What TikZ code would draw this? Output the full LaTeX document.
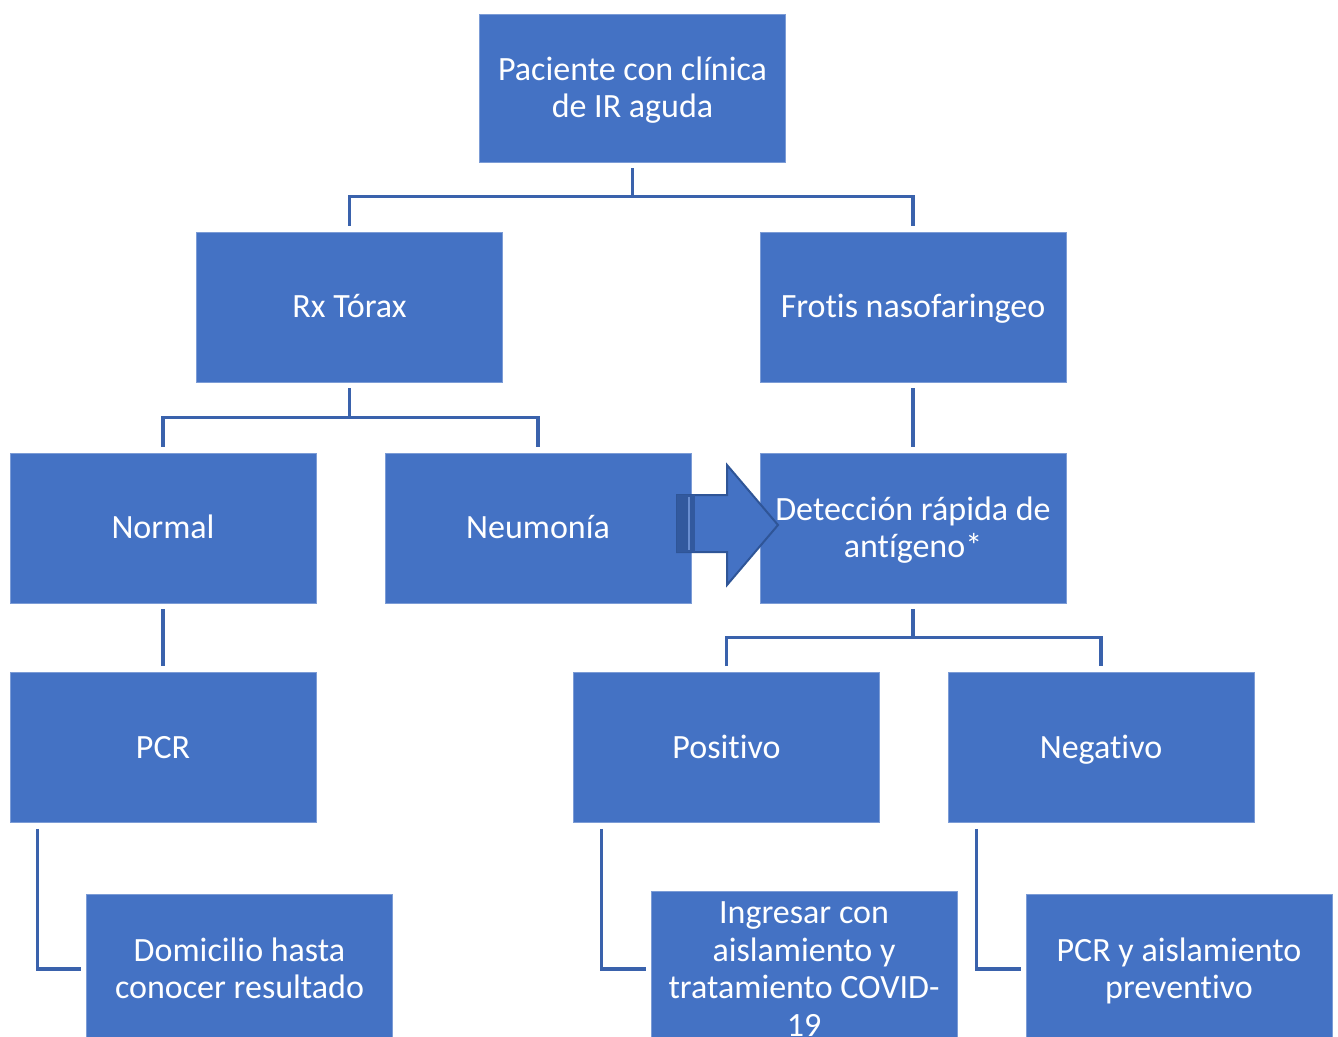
\documentclass[tikz,border=0pt]{standalone}
\usepackage{fontspec}
\setmainfont{Carlito}[Ligatures={NoCommon,NoRequired,NoContextual},RawFeature={-liga;-clig;-dlig}]
\usetikzlibrary{calc}
\definecolor{boxblue}{HTML}{4472C4}
\definecolor{linkblue}{HTML}{3A62AC}
\definecolor{arrowedge}{HTML}{2F5597}
\definecolor{arrowdark}{HTML}{32599E}
\newcommand{\mystrut}{\rule[-5.9pt]{0pt}{28.2pt}}
\tikzset{
  stepbox/.style={rectangle, fill=boxblue, draw=boxblue!70!white, line width=0.4pt,
    minimum width=229.5pt, minimum height=112.5pt, inner sep=2pt, text=white,
    align=center, font=\fontsize{25.5}{28.3}\selectfont},
  conn/.style={draw=linkblue, line width=2.3pt}
}
\begin{document}
\begin{tikzpicture}[x=0.75pt,y=-0.75pt]
\useasboundingbox (0,0) rectangle (1338,1036);
\clip (0,0) rectangle (1338,1036);
\fill[white] (0,0) rectangle (1338,1036);
\node[stepbox, minimum height=111pt] (top) at (632.5,88) {\mystrut Paciente con clínica\\\mystrut de IR aguda};
\node[stepbox] (rx) at (349.5,307) {\mystrut Rx Tórax};
\node[stepbox] (fro) at (913,307) {\mystrut Frotis nasofaringeo};
\node[stepbox] (nor) at (163,528) {\mystrut Normal};
\node[stepbox] (neu) at (538,528) {\mystrut Neumonía};
\node[stepbox] (det) at (913,528) {\mystrut Detección rápida de\\\mystrut antígeno*};
\node[stepbox] (pcr) at (163,747.5) {\mystrut PCR};
\node[stepbox] (pos) at (726.5,747.5) {\mystrut Positivo};
\node[stepbox] (neg) at (1101,747.5) {\mystrut Negativo};
\node[stepbox] (dom) at (239.5,969) {\mystrut Domicilio hasta\\\mystrut conocer resultado};
\node[stepbox] (ing) at (804,969) {\mystrut Ingresar con\\\mystrut aislamiento y\\\mystrut tratamiento COVID-\\\mystrut 19};
\node[stepbox] (pai) at (1179,969) {\mystrut PCR y aislamiento\\\mystrut preventivo};
% connectors
\draw[conn] ($(top.south)+(0,6)$) -- ++(0,30);
\draw[conn] ($(rx.north)+(0,-6)$) |- ($(fro.north)+(0,-35)$) -- ($(fro.north)+(0,-6)$);
\draw[conn] ($(rx.south)+(0,6)$) -- ++(0,30);
\draw[conn] ($(nor.north)+(0,-6)$) |- ($(neu.north)+(0,-35)$) -- ($(neu.north)+(0,-6)$);
\draw[conn] ($(fro.south)+(0,6)$) -- ($(det.north)+(0,-6)$);
\draw[conn] ($(nor.south)+(0,6)$) -- ($(pcr.north)+(0,-6)$);
\draw[conn] ($(det.south)+(0,6)$) -- ++(0,30);
\draw[conn] ($(pos.north)+(0,-6)$) |- ($(neg.north)+(0,-35)$) -- ($(neg.north)+(0,-6)$);
\draw[conn] ($(pcr.south west)+(28,6)$) |- ($(dom.west)+(-5,0)$);
\draw[conn] ($(pos.south west)+(28,6)$) |- ($(ing.west)+(-5,0)$);
\draw[conn] ($(neg.south west)+(29,6)$) |- ($(pai.west)+(-5,0)$);
% block arrow
\filldraw[fill=boxblue, draw=arrowedge, line width=1.5pt, line join=miter]
  (677,495) -- (727,495) -- (727,465) -- (778,525) -- (727,585) -- (727,552) -- (677,552) -- cycle;
\fill[arrowdark] (677,495) rectangle (695,552);
\draw[boxblue!80!white, line width=0.8pt] (689,497) -- (689,550);
\end{tikzpicture}
\end{document}
